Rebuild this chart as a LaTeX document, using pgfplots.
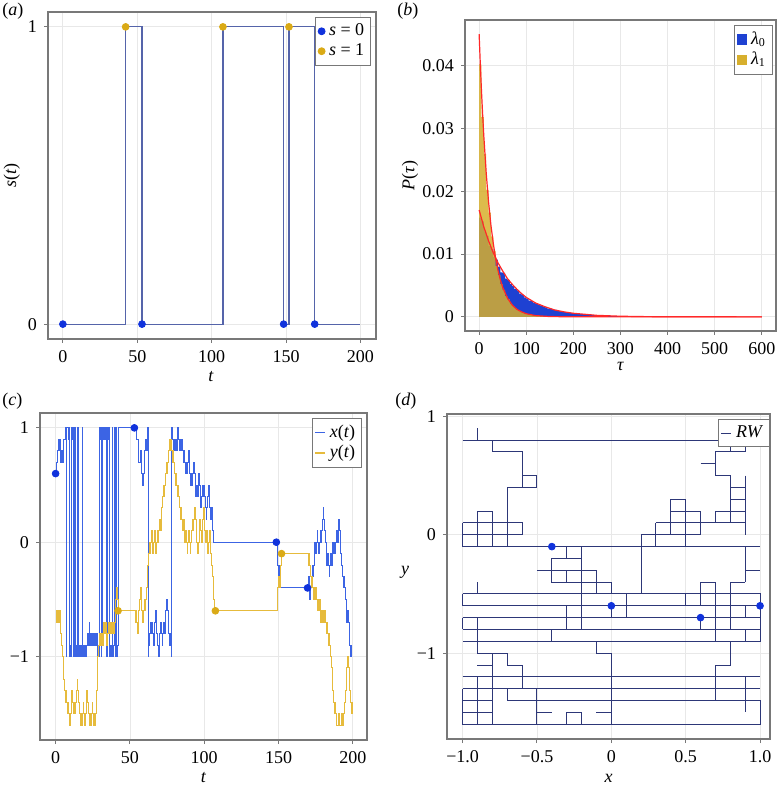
\documentclass[border=0pt]{standalone}
\usepackage{fontspec}
\setmainfont{Liberation Serif}
\usepackage{pgfplots}
\pgfplotsset{compat=1.18}
\definecolor{stepcol}{RGB}{85,100,170}
\definecolor{dotblue}{RGB}{16,50,220}
\definecolor{dotgold}{RGB}{218,170,22}
\definecolor{xcol}{RGB}{60,100,228}
\definecolor{ycol}{RGB}{230,187,60}
\definecolor{rwcol}{RGB}{45,55,120}
\definecolor{histblue}{RGB}{30,65,210}
\definecolor{histgold}{RGB}{215,175,45}
\definecolor{redc}{RGB}{255,40,40}
\definecolor{framec}{RGB}{120,120,120}
\newcommand{\fs}{\fontsize{9}{10.5}\selectfont}
\pgfplotsset{
  panel/.style={scale only axis, anchor=south west,
    /pgf/number format/assume math mode=true,
    scaled x ticks=false, scaled y ticks=false,
    tick align=outside, tick pos=left, major tick length=2pt,
    axis line style={draw=framec, line width=0.55pt},
    every tick/.style={draw=framec, line width=0.5pt},
    grid=major, grid style={draw=black!9, line width=0.4pt},
    tick label style={font=\fs}, label style={font=\fs},
    legend style={draw=framec, line width=0.5pt, fill=white, font=\fs,
      inner sep=1.2pt, row sep=-1.5pt, at={(0.985,0.985)}, anchor=north east},
    legend cell align=left},
  shortline/.style={legend image code/.code={\draw[##1,line width=0.6pt] (0pt,0pt) -- (5pt,0pt);}}
}
\begin{document}
\begin{tikzpicture}
\useasboundingbox (0,0) rectangle (388.5pt,394pt);
% ---------------- (a)
\begin{axis}[panel, at={(24pt,224.5pt)}, width=164pt, height=163.5pt,
  xmin=-10, xmax=210.5, ymin=-0.05, ymax=1.05,
  xtick={0,50,100,150,200}, ytick={0,1},
  xlabel={\textit{t}}, ylabel={\textit{s}(\textit{t})},
  xlabel style={at={(axis description cs:0.497,-0.116)}, anchor=center},
  ylabel style={at={(axis description cs:-0.11,0.5)}, anchor=center}]
\addplot[const plot, stepcol, line width=0.6pt, forget plot] coordinates {(0,0) (42.2,1) (53.2,0) (107.6,1) (148.4,0) (152,1) (169.3,0) (200,0)};
\addplot[only marks, mark=*, mark size=1.7pt, dotblue] coordinates {(0,0) (53.2,0) (148.4,0) (169.3,0)};
\addlegendentry{\textit{s} = 0}
\addplot[only marks, mark=*, mark size=1.7pt, dotgold] coordinates {(42.2,1) (107.6,1) (152,1)};
\addlegendentry{\textit{s} = 1}
\end{axis}
% ---------------- (b)
\begin{axis}[panel, at={(232.5pt,228.5pt)}, width=155.5pt, height=155.5pt,
  xmin=-30, xmax=630, ymin=-0.00225, ymax=0.04725,
  xtick={0,100,200,300,400,500,600},
  ytick={0,0.01,0.02,0.03,0.04}, yticklabels={0,0.01,0.02,0.03,0.04},
  xlabel={\textit{τ}}, ylabel={\textit{P}(\textit{τ})},
  xlabel style={at={(axis description cs:0.5,-0.115)}, anchor=center},
  ylabel style={at={(axis description cs:-0.177,0.5)}, anchor=center},
  legend style={at={(0.99,0.985)}}]
\addplot[ybar interval, fill=histblue, draw=none, forget plot] coordinates {
(0,0.0158) (5,0.0152) (10,0.0136) (15,0.0129) (20,0.0113) (25,0.0108) (30,0.0095) (35,0.0091)
(40,0.0080) (45,0.0071) (50,0.0070) (55,0.0061) (60,0.0059) (65,0.0052) (70,0.0049) (75,0.0044)
(80,0.0042) (85,0.0037) (90,0.0035) (95,0.0031) (100,0.0029) (105,0.0026) (110,0.0025) (115,0.0022)
(120,0.0021) (125,0.0019) (130,0.0018) (135,0.0016) (140,0.0015) (145,0.0013) (150,0.0013) (155,0.0011)
(160,0.0011) (165,0.00095) (170,0.0009) (175,0.0008) (180,0.00075) (185,0.0007) (190,0.00062) (195,0.0006)
(200,0.00052) (205,0.0005) (210,0.00045) (215,0.00043) (220,0.00038) (225,0.00036) (230,0.00032) (235,0.0003)
(240,0.00027) (245,0.00025) (250,0.00023) (255,0.0002) (260,0.00019) (265,0.00017) (270,0.00016) (275,0.00014)
(280,0.00013) (285,0.00011) (290,0.0001) (295,0.00009) (300,0.00009)};
\addplot[ybar interval, fill=histgold, fill opacity=0.85, draw=none, forget plot] coordinates {
(0,0.0402) (5,0.0318) (10,0.0259) (15,0.0202) (20,0.0166) (25,0.0128) (30,0.0105) (35,0.0081)
(40,0.0067) (45,0.0052) (50,0.0043) (55,0.0033) (60,0.0028) (65,0.0021) (70,0.0017) (75,0.0014)
(80,0.0011) (85,0.0009) (90,0.0007) (95,0.00056) (100,0.00045) (105,0.00036) (110,0.00029) (115,0.00023)
(120,0.00018) (125,0.00015) (130,0.00012) (135,0.00009) (140,0.00007) (145,0.00006) (150,0.00006)};
\addplot[redc, line width=0.6pt, forget plot] coordinates {
(0,0.0170) (10,0.0143) (20,0.0121) (30,0.0102) (40,0.0086) (50,0.0073) (60,0.0061) (70,0.0052) (80,0.0044)
(90,0.0037) (100,0.0031) (120,0.0022) (140,0.0016) (160,0.0011) (180,0.0008) (200,0.00057) (250,0.00024)
(300,0.0001) (350,0.00004) (400,0.00002) (500,0.000003) (600,0)};
\addplot[redc, line width=0.6pt, forget plot] coordinates {
(0,0.0450) (2.5,0.0402) (5,0.0359) (7.5,0.0321) (10,0.0287) (15,0.0229) (20,0.0183) (25,0.0146) (30,0.0117)
(35,0.0093) (40,0.0074) (45,0.0059) (50,0.0047) (60,0.0030) (70,0.0019) (80,0.0012) (90,0.0008) (100,0.0005)
(120,0.0002) (150,0.00005) (200,0.000006) (300,0) (600,0)};
\addlegendimage{legend image code/.code={\fill[histblue] (0pt,-2.4pt) rectangle (4.8pt,2.4pt);}}
\addlegendentry{\textit{λ}\textsubscript{0}}
\addlegendimage{legend image code/.code={\fill[histgold] (0pt,-2.4pt) rectangle (4.8pt,2.4pt);}}
\addlegendentry{\textit{λ}\textsubscript{1}}
\end{axis}
% ---------------- (c)
\begin{axis}[panel, at={(20pt,24pt)}, width=163.5pt, height=163.5pt,
  xmin=-10.5, xmax=209.5, ymin=-1.73, ymax=1.13,
  xtick={0,50,100,150,200}, ytick={-1,0,1}, yticklabels={−1,0,1},
  xlabel={\textit{t}},
  xlabel style={at={(axis description cs:0.5,-0.116)}, anchor=center},
  shortline]
\addplot[const plot, xcol, line width=0.5pt] coordinates {
(0,0.6) (0.6,0.7) (1.0,0.8) (2.0,0.9) (2.5,0.8) (3.0,0.9) (3.5,0.7) (4.0,0.8) (4.5,0.7) (5.0,0.8) (5.5,0.9) (6.5,1.0)
(7.2,-1.0) (7.6,1.0) (8.6,0.9) (9.0,1.0) (9.5,-1.0) (10.0,-0.9) (10.4,-1.0) (10.8,1.0) (11.2,0.9) (11.6,1.0)
(12.2,-1.0) (12.8,1.0) (13.4,-1.0) (14.0,-0.9) (14.5,-1.0) (15.0,1.0) (15.5,-1.0) (16.0,-0.9) (16.5,-1.0)
(17.0,-0.9) (17.5,-1.0) (18.0,1.0) (18.4,-1.0) (19.0,-0.9) (19.5,-1.0) (20.0,-0.9) (20.5,-1.0) (21.0,-0.9)
(21.5,-0.8) (22.0,-0.9) (22.5,-0.7) (23.0,-0.8) (23.5,-0.9) (24.0,-0.8) (24.5,-0.9) (25.0,-0.8) (25.5,-0.9)
(26.0,-0.8) (27.0,-0.9) (27.5,-0.8) (28.0,-0.9) (28.5,-1.0) (29.2,1.0) (29.8,0.9) (30.2,1.0) (30.8,-1.0)
(31.2,-0.9) (31.8,1.0) (32.4,0.9) (33.0,1.0) (33.5,0.9) (34.0,1.0) (34.5,-1.0) (35.0,1.0) (35.5,0.9) (36.0,1.0)
(36.5,-1.0) (37.0,-0.9) (37.5,-1.0) (38.0,1.0) (38.5,-1.0) (39.0,-0.9) (39.5,1.0) (40.0,-1.0) (40.5,1.0)
(41.0,-1.0) (41.5,-0.9) (42.0,1.0) (53.0,1.0)
(54.5,0.9) (55.5,0.8) (56,0.7) (57,0.8) (57.5,0.7) (58,0.6) (58.5,0.5) (59,0.6) (59.5,0.7) (60,0.8) (60.5,0.9)
(61,0.8) (61.5,0.9) (62,1.0) (62.4,-1.0) (62.8,-0.9) (63.2,-0.8) (63.7,-0.7) (64.2,-0.8) (64.7,-0.7) (65.2,-0.8)
(65.7,-0.9) (66.2,-0.8) (66.7,-0.7) (67.2,-0.6) (67.7,-0.7) (68.2,-0.8) (68.7,-0.9) (69.2,-1.0) (69.7,-0.9)
(70.2,-0.8) (70.7,-0.7) (71.2,-0.8) (71.7,-0.9) (72.2,-0.8) (72.7,-0.7) (73.2,-0.8) (73.7,-0.7) (74.2,-0.6)
(74.7,-0.5) (75.2,-0.6) (75.7,-0.7) (76.2,-0.8) (76.7,-0.9) (77.2,-0.8) (77.7,-0.9) (78.0,-1.0) (78.3,1.0)
(78.8,0.9) (79.3,0.8) (79.8,0.9) (80.3,0.8) (80.8,0.9) (81.3,0.8) (81.8,0.9) (82.3,1.0) (82.8,0.9) (83.3,0.8)
(83.8,0.9) (84.3,0.8) (84.8,0.9) (85.3,0.8) (85.8,0.7) (86.3,0.8) (86.8,0.7) (87.3,0.6) (87.8,0.7) (88.3,0.6)
(88.8,0.7) (89.3,0.8) (89.8,0.7) (90.3,0.6) (90.8,0.5) (91.3,0.6) (91.8,0.5) (92.3,0.6) (92.8,0.7) (93.3,0.6)
(93.8,0.5) (94.3,0.4) (94.8,0.5) (95.3,0.4) (95.8,0.5) (96.3,0.6) (96.8,0.5) (97.3,0.4) (97.8,0.3) (98.3,0.4)
(98.8,0.5) (99.3,0.4) (99.8,0.5) (100.3,0.4) (100.8,0.3) (101.3,0.2) (101.8,0.3) (102.3,0.4) (102.8,0.5)
(103.3,0.4) (103.8,0.3) (104.3,0.2) (104.8,0.3) (105.3,0.2) (105.8,0.1) (106.3,0.0) (148.5,0.0)
(149.0,-0.1) (149.5,-0.2) (150.0,-0.3) (150.5,-0.2) (151.0,-0.3) (151.5,-0.4) (169.5,-0.4)
(170.0,-0.3) (170.5,-0.4) (171.0,-0.5) (171.5,-0.4) (172.0,-0.3) (172.5,-0.2) (173.0,-0.3) (173.5,-0.2)
(174.0,-0.1) (174.5,0.0) (175.0,-0.1) (175.5,0.0) (176.0,0.1) (176.5,0.0) (177.0,-0.1) (177.5,0.0) (178.0,0.1)
(178.5,0.0) (179.0,0.1) (179.5,0.2) (180.0,0.3) (180.5,0.2) (181.0,0.1) (181.5,0.0) (182.0,-0.1) (182.5,-0.2)
(183.0,-0.1) (183.5,-0.2) (184.0,-0.3) (184.5,-0.2) (185.0,-0.1) (185.5,-0.2) (186.0,-0.1) (186.5,0.0)
(187.0,-0.1) (187.5,0.0) (188.0,-0.1) (188.5,0.0) (189.0,0.1) (189.5,0.0) (190.0,0.1) (190.5,0.2) (191.0,0.1)
(191.5,0.0) (192.0,-0.1) (192.5,-0.2) (193.0,-0.3) (193.5,-0.4) (194.0,-0.3) (194.5,-0.4) (195.0,-0.5)
(195.5,-0.6) (196.0,-0.7) (196.5,-0.6) (197.0,-0.7) (197.5,-0.8) (198.0,-0.9) (198.5,-1.0) (199.0,-0.9) (199.5,-0.9)};
\addlegendentry{\textit{x}(\textit{t})}
\addplot[const plot, ycol, line width=0.5pt] coordinates {
(0,-0.7) (0.5,-0.6) (1.0,-0.7) (1.5,-0.6) (2.0,-0.7) (2.5,-0.6) (3.0,-0.7) (3.5,-0.8) (4.0,-0.9) (4.5,-1.0)
(5.0,-1.1) (5.5,-1.2) (6.0,-1.3) (6.5,-1.4) (7.0,-1.3) (7.5,-1.4) (8.0,-1.5) (8.5,-1.4) (9.0,-1.5) (9.5,-1.6)
(10.0,-1.5) (10.5,-1.4) (11.0,-1.3) (11.5,-1.4) (12.0,-1.5) (12.5,-1.4) (13.0,-1.5) (13.5,-1.4) (14.0,-1.3)
(14.5,-1.2) (15.0,-1.3) (15.5,-1.4) (16.0,-1.5) (16.5,-1.6) (17.0,-1.5) (17.5,-1.6) (18.0,-1.5) (18.5,-1.4)
(19.0,-1.5) (19.5,-1.6) (20.0,-1.5) (20.5,-1.4) (21.0,-1.3) (21.5,-1.4) (22.0,-1.5) (22.5,-1.6) (23.0,-1.5)
(23.5,-1.6) (24.0,-1.5) (24.5,-1.4) (25.0,-1.5) (25.5,-1.6) (26.0,-1.5) (26.5,-1.6) (27.0,-1.5) (27.3,-1.4)
(27.6,-1.3) (27.9,-1.2) (28.2,-1.1) (28.5,-1.0) (29.0,-0.9) (29.5,-0.8) (30.5,-0.9) (31.0,-0.8) (31.5,-0.9)
(32.0,-0.8) (32.5,-0.7) (33.0,-0.8) (33.5,-0.7) (34.0,-0.8) (34.5,-0.9) (35.0,-0.8) (35.5,-0.7) (36.0,-0.8)
(36.5,-0.7) (37.0,-0.8) (37.5,-0.7) (38.0,-0.8) (38.5,-0.7) (39.0,-0.8) (39.5,-0.7) (40.0,-0.6) (40.5,-0.5)
(41.0,-0.4) (41.5,-0.5) (42.0,-0.6) (53.0,-0.6)
(53.5,-0.7) (54.0,-0.6) (54.5,-0.7) (55.0,-0.8) (55.5,-0.7) (56.0,-0.6) (56.5,-0.5) (57.0,-0.4) (57.5,-0.5)
(58.0,-0.6) (58.5,-0.7) (59.0,-0.6) (59.5,-0.5) (60.0,-0.6) (60.5,-0.5) (61.0,-0.4) (61.5,-0.3) (62.0,-0.2)
(62.5,-0.1) (63.0,0.0) (63.5,-0.1) (64.0,0.0) (64.5,0.1) (65.0,0.0) (65.5,-0.1) (66.0,0.0) (66.5,0.1) (67.0,0.0)
(67.5,-0.1) (68.0,0.0) (68.5,0.1) (69.0,0.0) (69.5,0.1) (70.0,0.2) (70.5,0.1) (71.0,0.2) (71.5,0.3) (72.0,0.4)
(72.5,0.5) (73.0,0.4) (73.5,0.5) (74.0,0.6) (74.5,0.7) (75.0,0.6) (75.5,0.7) (76.0,0.8) (76.5,0.9) (77.0,0.8)
(77.5,0.9) (78.0,0.8) (78.5,0.7) (79.0,0.8) (79.5,0.7) (80.0,0.6) (80.5,0.5) (81.0,0.6) (81.5,0.5) (82.0,0.4)
(82.5,0.5) (83.0,0.4) (83.5,0.3) (84.0,0.2) (84.5,0.3) (85.0,0.2) (85.5,0.1) (86.0,0.2) (86.5,0.1) (87.0,0.0)
(87.5,0.1) (88.0,0.0) (88.5,-0.1) (89.0,0.0) (89.5,0.1) (90.0,0.0) (90.5,-0.1) (91.0,0.0) (91.5,0.1) (92.0,0.2)
(92.5,0.1) (93.0,0.2) (93.5,0.3) (94.0,0.2) (94.5,0.1) (95.0,0.0) (95.5,-0.1) (96.0,0.0) (96.5,0.1) (97.0,0.2)
(97.5,0.1) (98.0,0.0) (98.5,0.1) (99.0,0.2) (99.5,0.3) (100.0,0.2) (100.5,0.1) (101.0,0.0) (101.5,0.1)
(102.0,0.0) (102.5,-0.1) (103.0,0.0) (103.5,0.1) (104.0,0.0) (104.5,-0.1) (105.0,-0.2) (105.5,-0.3) (106.0,-0.4)
(106.5,-0.5) (107.0,-0.6) (148.5,-0.6)
(149.0,-0.5) (149.5,-0.4) (150.0,-0.3) (150.5,-0.4) (151.0,-0.3) (151.5,-0.2) (152.0,-0.1) (169.5,-0.1)
(170.0,-0.2) (170.5,-0.1) (171.0,-0.2) (171.5,-0.3) (172.0,-0.4) (172.5,-0.3) (173.0,-0.4) (173.5,-0.5)
(174.0,-0.4) (174.5,-0.5) (175.0,-0.4) (175.5,-0.5) (176.0,-0.6) (176.5,-0.5) (177.0,-0.6) (177.5,-0.5)
(178.0,-0.6) (178.5,-0.7) (179.0,-0.6) (179.5,-0.7) (180.0,-0.6) (180.5,-0.7) (181.0,-0.6) (181.5,-0.7)
(182.0,-0.8) (182.5,-0.7) (183.0,-0.8) (183.5,-0.9) (184.0,-0.8) (184.5,-0.9) (185.0,-1.0) (185.5,-1.1)
(186.0,-1.2) (186.5,-1.3) (187.0,-1.4) (187.5,-1.5) (188.0,-1.4) (188.5,-1.5) (189.0,-1.6) (190.5,-1.5)
(191.0,-1.6) (192.5,-1.5) (193.0,-1.6) (194.0,-1.5) (194.5,-1.4) (195.0,-1.3) (195.5,-1.2) (196.0,-1.1)
(196.5,-1.0) (197.0,-1.1) (197.5,-1.2) (198.0,-1.3) (198.5,-1.4) (199.0,-1.5) (199.5,-1.4)};
\addlegendentry{\textit{y}(\textit{t})}
\addplot[only marks, mark=*, mark size=1.7pt, dotblue, forget plot] coordinates {(0,0.6) (53,1) (148.5,0) (169.5,-0.4)};
\addplot[only marks, mark=*, mark size=1.7pt, dotgold, forget plot] coordinates {(42,-0.6) (107.5,-0.6) (152,-0.1)};
\end{axis}
% ---------------- (d)
\begin{axis}[panel, at={(223.5pt,24.5pt)}, width=161.5pt, height=162.5pt,
  xmin=-1.105, xmax=1.067, ymin=-1.725, ymax=1.02,
  xtick={-1,-0.5,0,0.5,1}, xticklabels={−1.0,−0.5,0,0.5,1.0},
  ytick={-1,0,1}, yticklabels={−1,0,1},
  xlabel={\textit{x}}, ylabel={\textit{y}},
  xlabel style={at={(axis description cs:0.5,-0.12)}, anchor=center},
  ylabel style={at={(axis description cs:-0.13,0.514)}, anchor=center, rotate=-90},
  legend style={at={(1,0.985)}, anchor=north east},
  shortline]
\addplot[rwcol, line width=0.5pt, unbounded coords=jump] coordinates {
(-0.9,0.8) (-0.9,0.9) (nan,nan) (-1,0.8) (0.9,0.8) (nan,nan)
(-0.8,0.8) (-0.8,0.7) (-0.6,0.7) (-0.6,0.4) (nan,nan) (-0.6,0.5) (-0.5,0.5) (-0.5,0.4) (-0.7,0.4) (-0.7,-0.1) (nan,nan)
(-1,0.1) (-0.6,0.1) (-0.6,0) (-1,0) (nan,nan) (-0.9,0.2) (-0.8,0.2) (nan,nan)
(-1,-0.1) (1,-0.1) (nan,nan) (-1,0.1) (-1,-0.1) (nan,nan) (-0.9,0.2) (-0.9,-0.1) (nan,nan) (-0.8,0.2) (-0.8,-0.1) (nan,nan)
(0.8,0.8) (0.8,0.7) (nan,nan) (0.9,0.8) (0.9,0.7) (nan,nan) (0.7,0.7) (0.9,0.7) (nan,nan)
(0.7,0.7) (0.7,0.5) (0.8,0.5) (0.8,0.1) (nan,nan) (0.6,0.6) (0.7,0.6) (nan,nan)
(0.9,0.5) (0.9,0.0) (nan,nan) (0.8,0.4) (0.9,0.4) (nan,nan) (0.8,0.3) (0.9,0.3) (nan,nan)
(0.9,0.2) (0.7,0.2) (0.7,0.1) (nan,nan) (0.3,0.1) (0.9,0.1) (nan,nan)
(0.4,0.0) (0.4,0.3) (0.5,0.3) (0.5,-0.1) (nan,nan) (0.6,0.2) (0.6,0.0) (nan,nan) (0.4,0.2) (0.6,0.2) (nan,nan)
(0.2,-0.5) (0.2,0.0) (0.6,0.0) (nan,nan) (0.3,0.1) (0.3,-0.1) (nan,nan)
(0.9,-0.1) (0.9,-0.4) (nan,nan) (0.9,-0.3) (1.0,-0.3) (nan,nan)
(-0.3,-0.1) (-0.3,-0.2) (nan,nan) (-0.2,-0.1) (-0.2,-0.8) (nan,nan) (-0.2,-0.2) (-0.4,-0.2) (-0.4,-0.4) (0,-0.4) (0,-0.5) (nan,nan)
(-0.5,-0.3) (-0.1,-0.3) (-0.1,-0.5) (nan,nan) (-0.3,-0.3) (-0.3,-0.4) (nan,nan)
(-1,-0.5) (1,-0.5) (1,-0.9) (-1,-0.9) (nan,nan) (-1,-0.6) (1,-0.6) (nan,nan) (-1,-0.5) (-1,-0.6) (nan,nan)
(-0.9,-0.4) (-0.9,-0.5) (nan,nan) (-1,-0.7) (1,-0.7) (nan,nan) (-1,-0.8) (1,-0.8) (nan,nan) (-1,-0.7) (-1,-0.8) (nan,nan)
(-0.3,-0.6) (-0.3,-0.8) (nan,nan) (-0.4,-0.8) (-0.4,-0.9) (nan,nan) (0,-0.6) (0,-0.7) (nan,nan) (0.1,-0.5) (0.1,-0.7) (nan,nan)
(0.5,-0.5) (0.5,-0.6) (nan,nan) (0.6,-0.6) (0.6,-0.4) (0.7,-0.4) (0.7,-0.9) (nan,nan) (0.6,-0.7) (0.6,-0.8) (nan,nan)
(0.9,-0.4) (0.8,-0.4) (0.8,-0.8) (nan,nan) (0.8,-0.9) (0.8,-1.1) (0.7,-1.1) (0.7,-1.4) (nan,nan)
(0.9,-0.6) (0.9,-0.7) (nan,nan) (0.9,-0.8) (0.9,-0.9) (nan,nan)
(-0.9,-0.7) (-0.9,-1.0) (-0.7,-1.0) (-0.7,-1.1) (-0.6,-1.1) (-0.6,-1.3) (nan,nan) (-0.9,-1.1) (-0.8,-1.1) (nan,nan)
(-0.8,-1.0) (-0.8,-1.6) (nan,nan) (-1,-1.2) (1,-1.2) (nan,nan) (-1,-1.3) (1,-1.3) (nan,nan)
(-1,-1.4) (-0.8,-1.4) (nan,nan) (-0.7,-1.3) (-0.7,-1.4) (1,-1.4) (1,-1.6) (-1,-1.6) (-1,-1.3) (nan,nan)
(-1,-1.5) (-0.8,-1.5) (nan,nan) (-0.5,-1.5) (-0.4,-1.5) (nan,nan) (-0.3,-1.6) (-0.3,-1.5) (-0.2,-1.5) (-0.2,-1.6) (nan,nan)
(-0.1,-1.5) (0,-1.5) (nan,nan) (-0.9,-1.2) (-0.9,-1.6) (nan,nan) (-0.5,-1.3) (-0.5,-1.6) (nan,nan)
(-0.1,-0.9) (-0.1,-1.0) (0,-1.0) (0,-1.6) (nan,nan) (0.9,-1.2) (0.9,-1.5)};
\addlegendentry{\textit{RW}}
\addplot[only marks, mark=*, mark size=1.7pt, dotblue, forget plot] coordinates {(-0.4,-0.1) (0,-0.6) (0.6,-0.7) (1,-0.6)};
\end{axis}
% panel letters
\node[anchor=north west, inner sep=0pt, font=\fs] at (1pt,392.5pt) {(\textit{a})};
\node[anchor=north west, inner sep=0pt, font=\fs] at (198.5pt,392.5pt) {(\textit{b})};
\node[anchor=north west, inner sep=0pt, font=\fs] at (1pt,197.5pt) {(\textit{c})};
\node[anchor=north west, inner sep=0pt, font=\fs] at (197.5pt,197.5pt) {(\textit{d})};
\end{tikzpicture}
\end{document}
